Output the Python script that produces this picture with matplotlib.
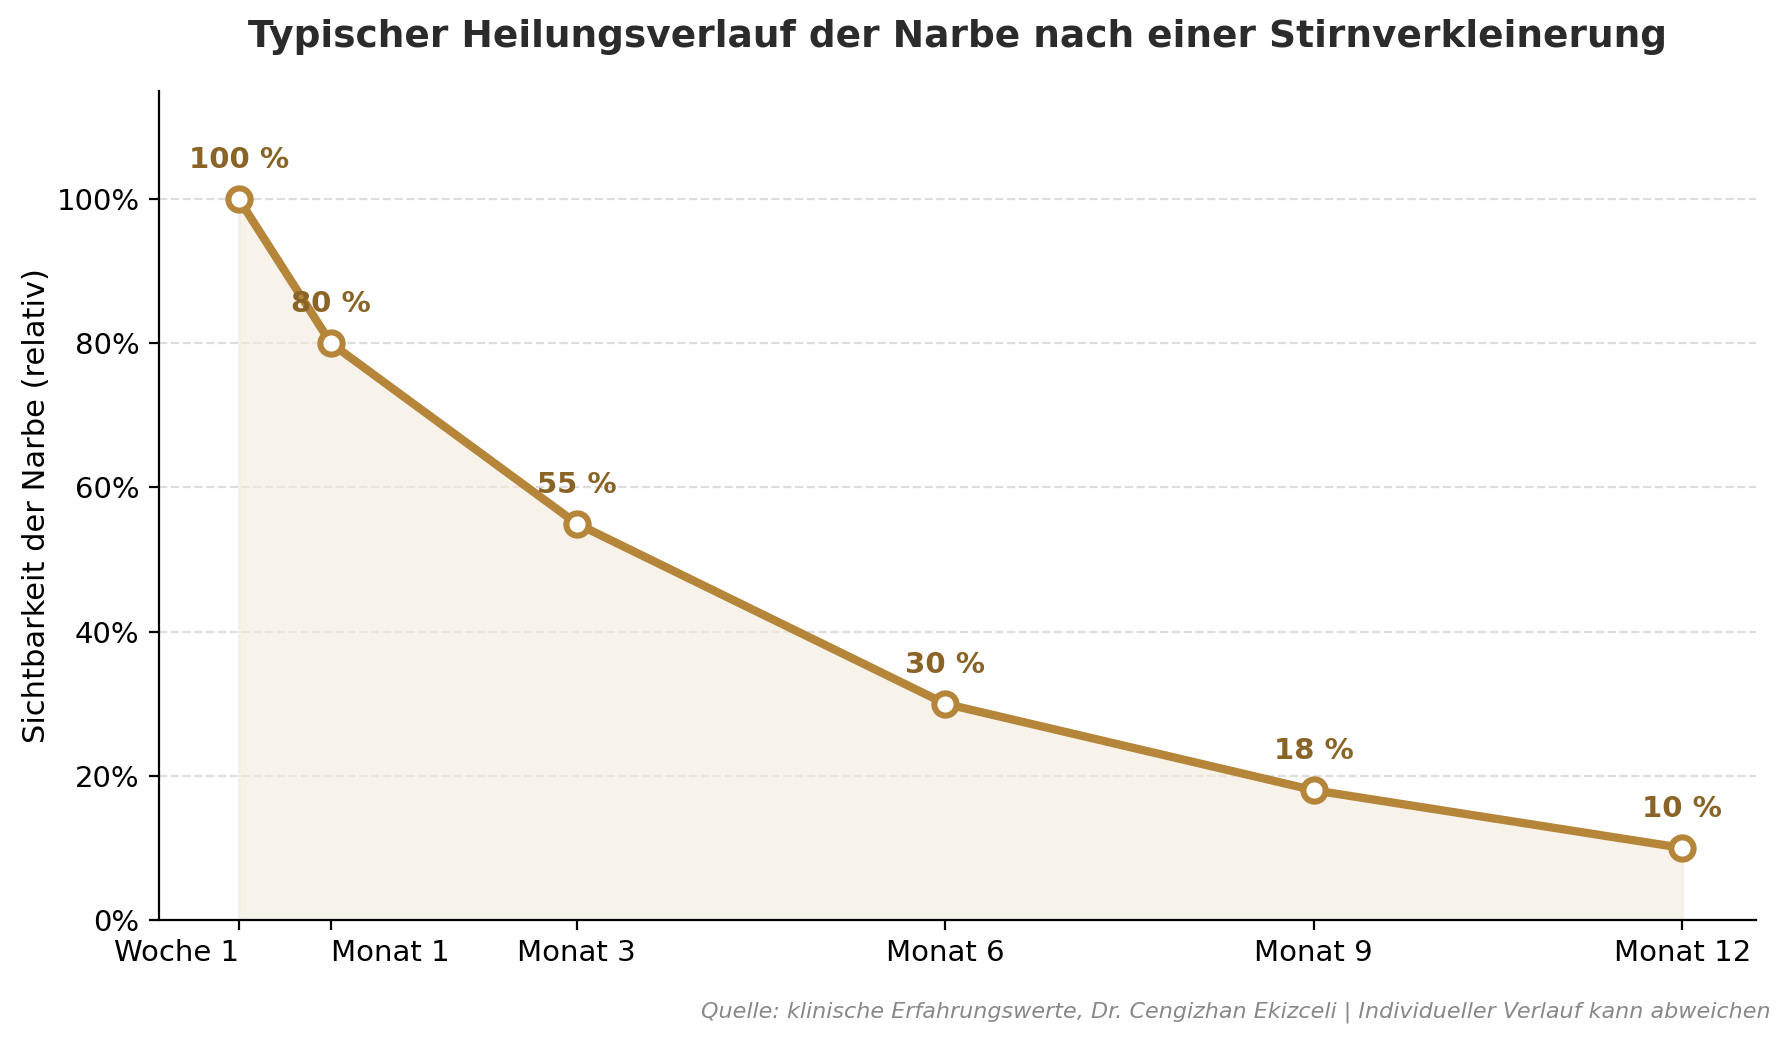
import matplotlib
matplotlib.use("Agg")
import matplotlib.pyplot as plt
from matplotlib.ticker import FuncFormatter

x_months = [0.25, 1, 3, 6, 9, 12]
tick_labels = ["Woche 1", "Monat 1", "Monat 3", "Monat 6", "Monat 9", "Monat 12"]
visibility = [100, 80, 55, 30, 18, 10]

line_color = "#B5853A"
label_color = "#8A6426"

fig = plt.figure(figsize=(8.955, 5.225), dpi=200)
ax = fig.add_axes([159/1791, 1 - 920/1045, (1756-159)/1791, (920-91)/1045])

ax.fill_between(x_months, visibility, 0, color="#F3EADD", alpha=0.6, lw=1)
ax.plot(x_months, visibility, color=line_color, lw=3, marker="o", ms=8,
        mfc="white", mec=line_color, mew=2.2, zorder=3)

for xv, yv in zip(x_months, visibility):
    ax.annotate(f"{yv} %", (xv, yv), xytext=(0, 9), textcoords="offset points",
                ha="center", va="bottom", fontsize=10.5, fontweight="bold", color=label_color)

ax.set_xlim(-0.4, 12.6)
ax.set_ylim(0, 115)
ax.set_yticks([0, 20, 40, 60, 80, 100])
ax.yaxis.set_major_formatter(FuncFormatter(lambda v, p: f"{int(v)}%"))
ax.set_xticks(x_months)
ax.set_xticklabels(tick_labels)
labels = ax.get_xticklabels()
labels[0].set_ha("right")
labels[1].set_ha("left")
ax.tick_params(labelsize=10.5)
ax.grid(axis="y", ls="--", color="#dddddd", lw=0.8)
ax.set_axisbelow(True)
for s in ["top", "right"]:
    ax.spines[s].set_visible(False)
ax.set_ylabel("Sichtbarkeit der Narbe (relativ)", fontsize=11, labelpad=2)

fig.text((218+1459)/2/1568, 1 - 32/915, "Typischer Heilungsverlauf der Narbe nach einer Stirnverkleinerung",
         ha="center", va="center", fontsize=13.5, fontweight="bold", color="#2b2b2b")
fig.text(1550/1568, 1 - 886/915,
         "Quelle: klinische Erfahrungswerte, Dr. Cengizhan Ekizceli | Individueller Verlauf kann abweichen",
         ha="right", va="center", fontsize=8, style="italic", color="#888888")

fig.savefig("out.png", dpi=200)
